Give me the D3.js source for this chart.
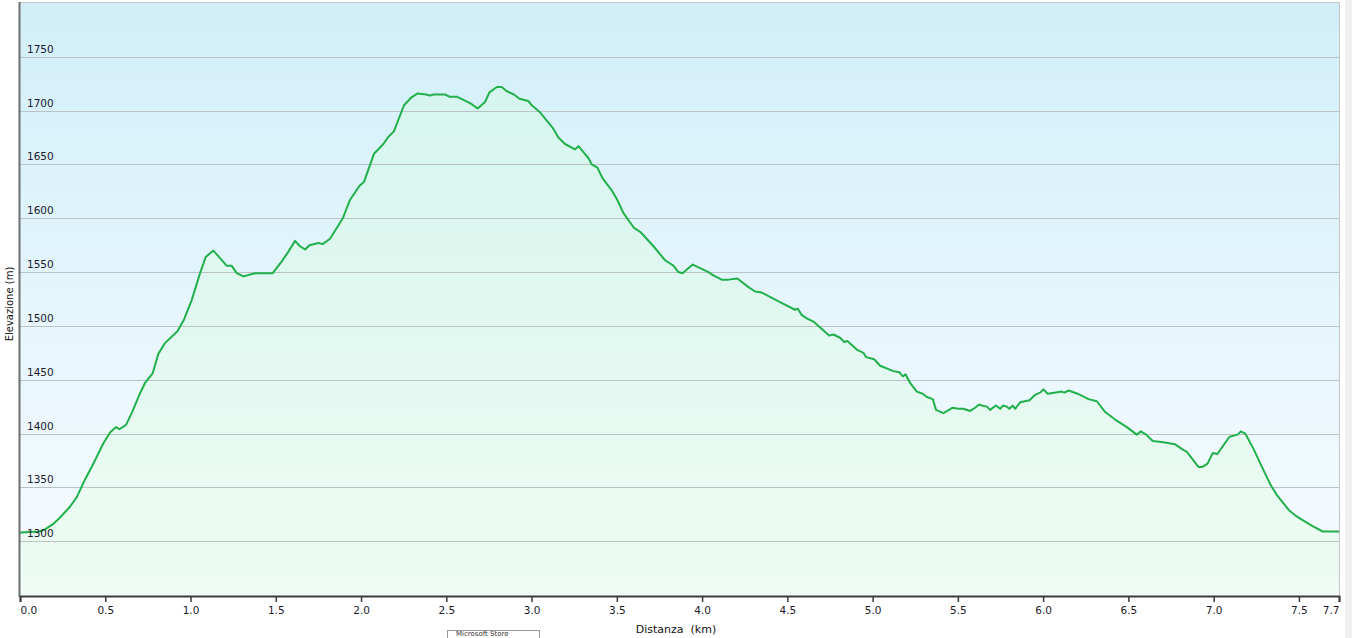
<!DOCTYPE html>
<html>
<head>
<meta charset="utf-8">
<script src="https://cdn.jsdelivr.net/npm/d3@7"></script>
<style>
  html, body { margin: 0; padding: 0; background: #ffffff; }
  body { width: 1352px; height: 638px; overflow: hidden; position: relative; font-family: "DejaVu Sans", Verdana, sans-serif; }
  #strip { position: absolute; left: 1345px; top: 0; width: 7px; height: 638px; background: #efefef; }
  #tip { position: absolute; left: 447px; top: 630px; width: 93px; height: 8px; background: #fff; border: 1px solid #999; border-bottom: none; font-size: 7px; color: #333; padding-left: 8px; box-sizing: border-box; line-height: 7px; overflow: visible; white-space: nowrap; }
</style>
</head>
<body>
<div id="strip"></div>
<svg id="chart" width="1345" height="638"></svg>
<div id="tip">Microsoft Store</div>
<script>
// ---- data ----
const distanceKm = [0.000,0.117,0.147,0.195,0.235,0.293,0.333,0.371,0.430,0.489,0.528,0.563,0.583,0.622,0.655,0.700,0.733,0.778,0.811,0.850,0.923,0.962,1.007,
1.056,1.089,1.134,1.173,1.212,1.241,1.271,1.310,1.378,1.427,1.482,1.535,1.574,1.613,1.642,1.672,1.697,1.750,1.775,1.818,
1.893,1.935,1.990,2.018,2.076,2.131,2.157,2.193,2.252,2.293,2.333,2.381,2.405,2.424,2.493,2.518,2.561,2.639,2.684,2.727,
2.753,2.796,2.825,2.855,2.897,2.929,2.981,3.001,3.046,3.124,3.157,3.196,3.255,3.275,3.333,3.353,3.386,3.417,3.470,3.503,
3.538,3.601,3.640,3.715,3.783,3.832,3.861,3.885,3.945,3.998,4.037,4.066,4.115,4.154,4.207,4.272,4.311,4.350,4.457,4.545,
4.561,4.585,4.614,4.653,4.745,4.770,4.809,4.834,4.852,4.907,4.946,4.962,5.009,5.044,5.122,5.157,5.177,5.193,5.220,5.259,
5.294,5.318,5.353,5.372,5.415,5.470,5.503,5.532,5.572,5.601,5.625,5.640,5.670,5.689,5.723,5.748,5.764,5.787,5.802,5.822,
5.836,5.865,5.920,5.953,5.982,6.002,6.027,6.066,6.109,6.125,6.149,6.202,6.266,6.315,6.364,6.422,6.491,6.549,6.573,6.604,
6.643,6.705,6.774,6.819,6.843,6.911,6.934,6.964,6.995,7.022,7.048,7.093,7.140,7.160,7.185,7.233,7.292,7.335,7.370,7.405,7.440,7.478,
7.517,7.580,7.640,7.735];
const elevationM = [1308,1309,1311,1316,1322,1332,1341,1354,1372,1391,1401,1406,1404,1408,1419,1436,1447,1456,1474,1484,1495,1506,1524,
1549,1564,1570,1563,1556,1556,1549,1546,1549,1549,1549,1560,1569,1579,1574,1571,1575,1577,1576,1581,
1600,1617,1630,1634,1660,1669,1675,1681,1705,1712,1716,1715,1714,1715,1715,1713,1713,1707,1702,1708,
1717,1722,1722,1718,1715,1711,1709,1705,1699,1684,1675,1669,1664,1667,1656,1650,1647,1637,1626,1617,
1605,1591,1587,1574,1561,1556,1550,1549,1557,1553,1550,1547,1543,1543,1544,1536,1532,1531,1522,1515,
1516,1510,1507,1504,1491,1492,1489,1485,1486,1478,1475,1471,1469,1463,1458,1457,1453,1455,1447,1439,
1437,1434,1432,1422,1419,1424,1423,1423,1421,1424,1427,1426,1425,1422,1426,1423,1426,1425,1423,1426,
1423,1429,1431,1436,1438,1441,1437,1438,1439,1438,1440,1437,1432,1430,1420,1413,1406,1399,1402,1399,
1393,1392,1390,1385,1383,1369,1369,1372,1382,1381,1387,1397,1399,1402,1400,1386,1366,1352,1343,1336,1329,1324,
1320,1314,1309,1309];
const yTicks = [1300,1350,1400,1450,1500,1550,1600,1650,1700,1750];
const xTicks = [0.0,0.5,1.0,1.5,2.0,2.5,3.0,3.5,4.0,4.5,5.0,5.5,6.0,6.5,7.0,7.5,7.735];
const xTickLabels = ["0.0","0.5","1.0","1.5","2.0","2.5","3.0","3.5","4.0","4.5","5.0","5.5","6.0","6.5","7.0","7.5","7.7"];
const xTitle = "Distanza  (km)";
const yTitle = "Elevazione (m)";

// ---- layout ----
const L = 20, R = 1339, T = 3, B = 595;
const svg = d3.select("#chart");
const x = d3.scaleLinear().domain([0, 7.735]).range([L, R]);
const y = d3.scaleLinear().domain([1250, 1800]).range([B, T]);

const defs = svg.append("defs");
const bg = defs.append("linearGradient").attr("id","bg").attr("x1",0).attr("y1",0).attr("x2",0).attr("y2",1);
bg.append("stop").attr("offset","0%").attr("stop-color","#d1eff9");
bg.append("stop").attr("offset","100%").attr("stop-color","#f8fcff");
const ag = defs.append("linearGradient").attr("id","ag").attr("gradientUnits","userSpaceOnUse")
  .attr("x1",0).attr("y1",T).attr("x2",0).attr("y2",B);
ag.append("stop").attr("offset","0%").attr("stop-color","#d2f4ee");
ag.append("stop").attr("offset","100%").attr("stop-color","#eefcf3");

svg.append("rect").attr("x",L).attr("y",T).attr("width",R-L).attr("height",B-T).attr("fill","url(#bg)");

const data = distanceKm.map((d,i)=>({d, e: elevationM[i]}));
svg.append("path").datum(data)
  .attr("fill","url(#ag)")
  .attr("d", d3.area().x(p=>x(p.d)).y0(B).y1(p=>y(p.e)));

// gridlines
svg.append("g").selectAll("line").data(yTicks).join("line")
  .attr("x1",L).attr("x2",R)
  .attr("y1",d=>Math.round(y(d))+0.5).attr("y2",d=>Math.round(y(d))+0.5)
  .attr("stroke","#b9c3c6").attr("stroke-width",1);

// line
svg.append("path").datum(data)
  .attr("fill","none").attr("stroke","#22b04c").attr("stroke-width",2)
  .attr("stroke-linejoin","round")
  .attr("d", d3.line().x(p=>x(p.d)).y(p=>y(p.e)));

// borders
svg.append("line").attr("x1",L).attr("x2",R+0.5).attr("y1",T-0.5).attr("y2",T-0.5).attr("stroke","#c4c4c4");
svg.append("line").attr("x1",R+0.5).attr("x2",R+0.5).attr("y1",T-0.5).attr("y2",B).attr("stroke","#c4c4c4");
svg.append("line").attr("x1",L-0.5).attr("x2",L-0.5).attr("y1",T-1).attr("y2",B+2).attr("stroke","#6e6e6e").attr("stroke-width",2);

// y labels inside plot
svg.append("g").selectAll("text").data(yTicks).join("text")
  .attr("x",L+7).attr("y",d=>Math.round(y(d))-4)
  .attr("font-size","10.5px").attr("fill","#1a1a2a").text(d=>d);

// x axis
const xAxis = d3.axisBottom(x).tickValues(xTicks).tickSize(6).tickFormat((d,i)=>xTickLabels[i]);
const gx = svg.append("g").attr("transform",`translate(0,${B+1})`).call(xAxis);
gx.select(".domain").attr("stroke","#3c3c3c").attr("stroke-width",2);
gx.selectAll(".tick line").attr("stroke","#3c3c3c").attr("stroke-width",1.5);
gx.selectAll(".tick text").attr("font-size","10.5px").attr("fill","#1a1a2a").attr("font-family","DejaVu Sans, Verdana, sans-serif").attr("dy","0.9em");
gx.selectAll(".tick text").filter((d,i)=>i===0).attr("text-anchor","start");
gx.selectAll(".tick text").filter((d,i)=>i===xTicks.length-1).attr("text-anchor","end");

// titles
svg.append("text").attr("x",676).attr("y",633).attr("text-anchor","middle")
  .style("white-space","pre")
  .attr("font-size","11px").attr("fill","#111").text(xTitle);
svg.append("text").attr("transform","translate(13,304) rotate(-90)").attr("text-anchor","middle")
  .attr("font-size","10px").attr("fill","#111").text(yTitle);
</script>
</body>
</html>
